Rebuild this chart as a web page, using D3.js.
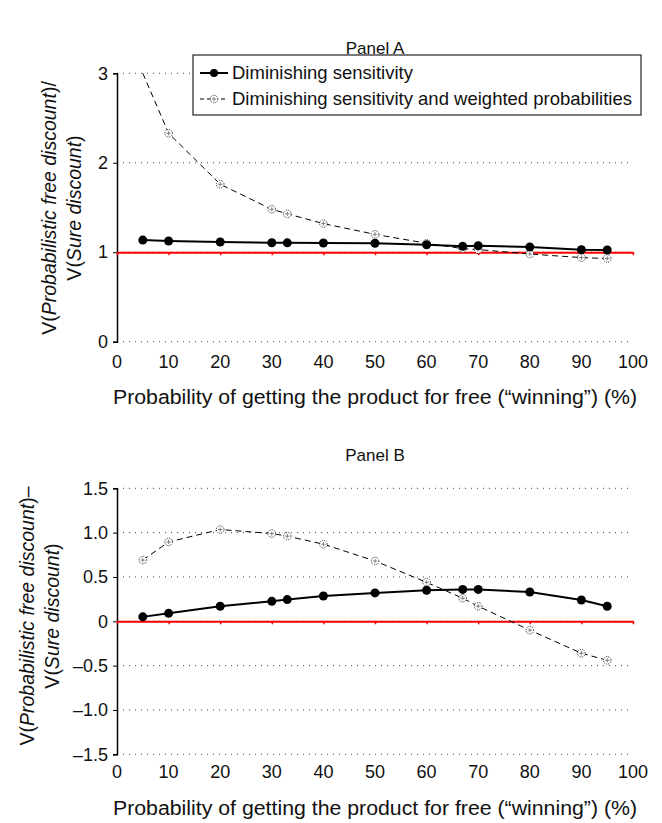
<!DOCTYPE html>
<html>
<head>
<meta charset="utf-8">
<script src="https://cdn.jsdelivr.net/npm/d3@7"></script>
<style>
body { margin: 0; background: #fff; }
text { font-family: "Liberation Sans", Arial, sans-serif; fill: #111; }
</style>
</head>
<body>
<div id="chart"></div>
<script>
// probability of winning (%)
var probs = [5, 10, 20, 30, 33, 40, 50, 60, 67, 70, 80, 90, 95];

// Panel A: ratio V(prob)/V(sure)
var ratioDS  = [1.136, 1.125, 1.114, 1.106, 1.105, 1.103, 1.10, 1.084, 1.066, 1.073, 1.058, 1.028, 1.025];
var ratioDSW = [3.0, 2.33, 1.76, 1.48, 1.43, 1.32, 1.20, 1.10, 1.04, 1.03, 0.98, 0.94, 0.93];

// Panel B: difference V(prob)-V(sure)
var diffDS  = [0.05, 0.09, 0.17, 0.225, 0.245, 0.285, 0.32, 0.35, 0.36, 0.36, 0.33, 0.24, 0.17];
var diffDSW = [0.69, 0.895, 1.035, 0.99, 0.96, 0.87, 0.68, 0.44, 0.26, 0.17, -0.10, -0.36, -0.44];

var xTicks = [0, 10, 20, 30, 40, 50, 60, 70, 80, 90, 100];
var yTicksA = [0, 1, 2, 3];
var yTicksB = [-1.5, -1.0, -0.5, 0, 0.5, 1.0, 1.5];

var legendLabels = ['Diminishing sensitivity', 'Diminishing sensitivity and weighted probabilities'];

var w = 662, h = 823;
var svg = d3.select('#chart').append('svg')
	.attr('width', w).attr('height', h);

function fmtB(d) {
	if (d === 0) return '0';
	return (d < 0 ? '\u2013' : '') + Math.abs(d).toFixed(1);
}

function drawPanel(p) {
	var x = d3.scaleLinear().domain([0, 100]).range([117, 633]);
	var y = d3.scaleLinear().domain(p.domain).range(p.range);
	var g = svg.append('g');

	g.append('text')
		.attr('x', 375).attr('y', p.titleY)
		.attr('text-anchor', 'middle')
		.attr('font-size', '17px')
		.text(p.title);

	// dotted gridlines
	g.selectAll('line.grid')
		.data(p.yTicks)
		.enter().append('line')
		.attr('class', 'grid')
		.attr('x1', x(0)).attr('x2', x(100))
		.attr('y1', function(d) { return y(d); })
		.attr('y2', function(d) { return y(d); })
		.attr('stroke', '#444')
		.attr('stroke-width', 1)
		.attr('stroke-dasharray', '1,5');

	// y axis
	var yAxis = d3.axisLeft(y).tickValues(p.yTicks).tickSize(4).tickFormat(p.fmt);
	var ya = g.append('g').attr('transform', 'translate(' + x(0) + ',0)').call(yAxis);
	ya.select('.domain').attr('stroke', '#000').attr('stroke-width', 1.5);
	ya.selectAll('.tick line').attr('stroke', '#000');
	ya.selectAll('.tick text')
		.attr('font-size', '18px')
		.attr('font-family', '"Liberation Sans", Arial, sans-serif')
		.attr('fill', '#111')
		.attr('x', -9);

	// red reference axis
	var xAxis = d3.axisBottom(x).tickValues(xTicks).tickSize(3).tickSizeOuter(0).tickFormat('');
	var xa = g.append('g').attr('transform', 'translate(0,' + y(p.ref) + ')').call(xAxis);
	xa.select('.domain').attr('stroke', '#f00').attr('stroke-width', 2);
	xa.selectAll('.tick line').attr('stroke', '#f00').attr('stroke-width', 1.5);

	// x tick labels along the bottom
	g.selectAll('text.xt')
		.data(xTicks)
		.enter().append('text')
		.attr('class', 'xt')
		.attr('x', function(d) { return x(d); })
		.attr('y', p.xLabelY)
		.attr('text-anchor', 'middle')
		.attr('font-size', '18px')
		.text(function(d) { return d; });

	g.append('text')
		.attr('x', 375).attr('y', p.xTitleY)
		.attr('text-anchor', 'middle')
		.attr('font-size', '20px')
		.attr('textLength', 524)
		.attr('lengthAdjust', 'spacingAndGlyphs')
		.text('Probability of getting the product for free (\u201cwinning\u201d) (%)');

	// y title, two lines rotated
	var cy = p.yTitleY;
	var t1 = g.append('text')
		.attr('transform', 'translate(' + p.yTitleX + ',' + cy + ') rotate(-90)')
		.attr('text-anchor', 'middle')
		.attr('font-size', '19.5px');
	t1.append('tspan').text('V(');
	t1.append('tspan').attr('font-style', 'italic').text('Probabilistic free discount');
	t1.append('tspan').text(p.sep);
	var t2 = g.append('text')
		.attr('transform', 'translate(' + (p.yTitleX + 25) + ',' + cy + ') rotate(-90)')
		.attr('text-anchor', 'middle')
		.attr('font-size', '19.5px');
	t2.append('tspan').text('V(');
	t2.append('tspan').attr('font-style', 'italic').text('Sure discount');
	t2.append('tspan').text(')');

	var line = d3.line()
		.x(function(d, i) { return x(probs[i]); })
		.y(function(d) { return y(d); });

	// weighted (dashed)
	g.append('path')
		.datum(p.dsw)
		.attr('d', line)
		.attr('fill', 'none')
		.attr('stroke', '#000')
		.attr('stroke-width', 1)
		.attr('stroke-dasharray', '6,4');

	var hollow = g.selectAll('g.hm')
		.data(p.dsw)
		.enter().append('g')
		.attr('class', 'hm')
		.attr('transform', function(d, i) { return 'translate(' + x(probs[i]) + ',' + y(d) + ')'; })
		.style('display', function(d) { return y(d) < p.range[1] + 1 ? 'none' : null; });
	hollowMarker(hollow);

	// diminishing sensitivity (solid)
	g.append('path')
		.datum(p.ds)
		.attr('d', line)
		.attr('fill', 'none')
		.attr('stroke', '#000')
		.attr('stroke-width', 2);

	g.selectAll('circle.dot')
		.data(p.ds)
		.enter().append('circle')
		.attr('class', 'dot')
		.attr('cx', function(d, i) { return x(probs[i]); })
		.attr('cy', function(d) { return y(d); })
		.attr('r', 4.5)
		.attr('fill', '#000');
}

function hollowMarker(sel) {
	sel.append('circle')
		.attr('r', 3.8)
		.attr('fill', '#fff')
		.attr('stroke', '#000')
		.attr('stroke-width', 0.8)
		.attr('stroke-dasharray', '1,1');
	sel.append('path')
		.attr('d', 'M-2.2,0H2.2M0,-2.2V2.2')
		.attr('stroke', '#666')
		.attr('stroke-width', 0.8);
}

drawPanel({
	title: 'Panel A', titleY: 54,
	domain: [0, 3], range: [341.7, 73.3],
	yTicks: yTicksA, fmt: d3.format('d'), ref: 1,
	ds: ratioDS, dsw: ratioDSW,
	xLabelY: 368, xTitleY: 404, yTitleX: 56, yTitleY: 208, sep: ')/'
});

drawPanel({
	title: 'Panel B', titleY: 461,
	domain: [-1.5, 1.5], range: [754.3, 488.3],
	yTicks: yTicksB, fmt: fmtB, ref: 0,
	ds: diffDS, dsw: diffDSW,
	xLabelY: 778, xTitleY: 815, yTitleX: 34, yTitleY: 616, sep: ')\u2013'
});

// legend for panel A
var lg = svg.append('g').attr('transform', 'translate(193,55)');
lg.append('rect')
	.attr('width', 448).attr('height', 60)
	.attr('fill', '#fff')
	.attr('stroke', '#222').attr('stroke-width', 1.2);
legendLabels.forEach(function(lbl, i) {
	var ly = 18 + i * 26;
	lg.append('line')
		.attr('x1', 7).attr('x2', 35).attr('y1', ly).attr('y2', ly)
		.attr('stroke', '#000')
		.attr('stroke-width', i ? 1 : 2)
		.attr('stroke-dasharray', i ? '4,3' : null);
	if (i) {
		hollowMarker(lg.append('g').attr('transform', 'translate(21,' + ly + ')'));
	} else {
		lg.append('circle').attr('cx', 21).attr('cy', ly).attr('r', 4).attr('fill', '#000');
	}
	lg.append('text')
		.attr('x', 39).attr('y', ly + 6)
		.attr('font-size', '18.5px')
		.text(lbl);
});
</script>
</body>
</html>
